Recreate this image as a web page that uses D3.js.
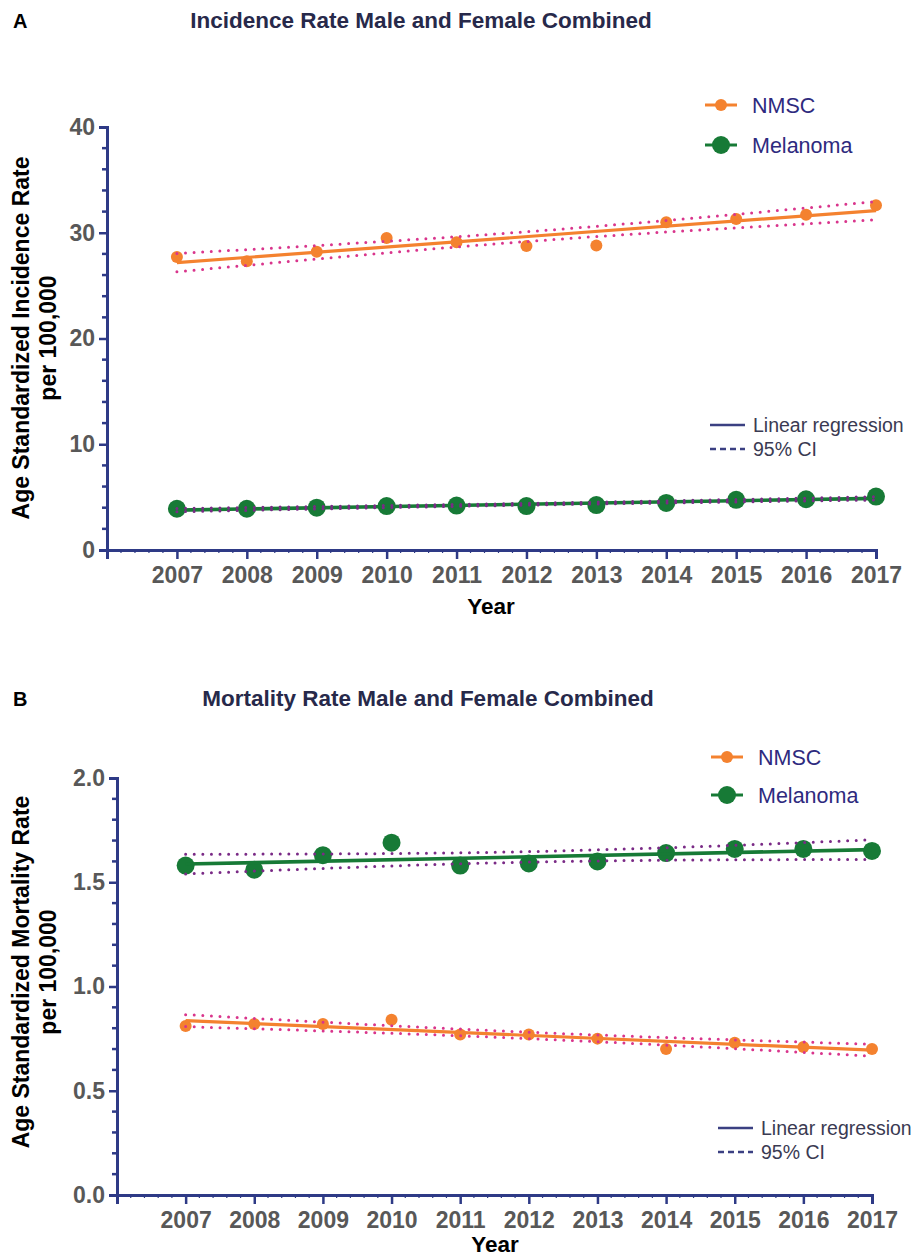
<!DOCTYPE html>
<html>
<head>
<meta charset="utf-8">
<script src="https://cdn.jsdelivr.net/npm/d3@7"></script>
<style>
  html, body { margin: 0; padding: 0; background: #fff; }
  svg { display: block; font-family: "Liberation Sans", Arial, sans-serif; }
</style>
</head>
<body>
<svg id="chart" width="915" height="1259"></svg>
<script>
// Age standardized rates per 100,000, 2007-2017
const years = [2007, 2008, 2009, 2010, 2011, 2012, 2013, 2014, 2015, 2016, 2017];
const yearTickLabels = ["2007", "2008", "2009", "2010", "2011", "2012", "2013", "2014", "2015", "2016", "2017"];

const incidenceNMSC     = [27.7, 27.3, 28.2, 29.5, 29.1, 28.75, 28.8, 31.0, 31.3, 31.7, 32.6];
const incidenceMelanoma = [3.9, 3.9, 4.0, 4.15, 4.2, 4.15, 4.25, 4.45, 4.75, 4.8, 5.05];

const mortalityNMSC     = [0.81, 0.82, 0.82, 0.84, 0.77, 0.77, 0.75, 0.70, 0.73, 0.71, 0.70];
const mortalityMelanoma = [1.58, 1.56, 1.63, 1.69, 1.58, 1.59, 1.60, 1.64, 1.66, 1.66, 1.65];

const incidenceTicks = [0, 10, 20, 30, 40];
const mortalityTicks = [0.0, 0.5, 1.0, 1.5, 2.0];

const seriesNames = ["NMSC", "Melanoma"];

const COL = {
  nmsc: "#F4822F",
  melanoma: "#177A36",
  nmscCI: "#D9358C",
  melanomaCI: "#7A2A86",
  axis: "#2E3A86",
  tick: "#585858",
  legendText: "#2E2A7E",
  title: "#27294A"
};

const svg = d3.select("#chart");

// Ordinary least squares fit with a 95% confidence band for the mean
function fitLine(xs, ys) {
  const n = xs.length;
  const mx = d3.mean(xs), my = d3.mean(ys);
  const sxx = d3.sum(xs, x => (x - mx) ** 2);
  const sxy = d3.sum(xs.map((x, i) => (x - mx) * (ys[i] - my)));
  const b = sxy / sxx, a = my - b * mx;
  const sse = d3.sum(xs.map((x, i) => (ys[i] - (a + b * x)) ** 2));
  const s = Math.sqrt(sse / (n - 2));
  const t = 2.262; // t(0.975, df = 9)
  const predict = x => a + b * x;
  const half = x => t * s * Math.sqrt(1 / n + (x - mx) ** 2 / sxx);
  return { predict, half };
}

function drawPanel(cfg) {
  const g = svg.append("g");
  const x = d3.scaleLinear().domain([2006, 2017]).range([cfg.left, cfg.right]);
  const y = d3.scaleLinear().domain([0, cfg.yMax]).range([cfg.bottom, cfg.top]);

  // panel letter and title
  g.append("text").attr("x", 13).attr("y", cfg.titleY)
    .attr("font-size", 20).attr("font-weight", "bold").attr("fill", "#000").text(cfg.letter);
  g.append("text").attr("x", cfg.titleX).attr("y", cfg.titleY).attr("text-anchor", "middle")
    .attr("font-size", 22.5).attr("font-weight", "bold").attr("fill", COL.title).text(cfg.title);

  // y axis
  const yAxis = d3.axisLeft(y).tickValues(cfg.yTicks).tickSize(8).tickPadding(4)
    .tickFormat(cfg.yFormat);
  const ya = g.append("g").attr("transform", `translate(${cfg.left},0)`).call(yAxis);
  ya.select(".domain").attr("stroke", COL.axis).attr("stroke-width", 3);
  ya.selectAll(".tick line").attr("stroke", COL.axis).attr("stroke-width", 2.5);
  ya.selectAll(".tick text").attr("font-size", 23).attr("font-weight", "bold")
    .attr("fill", COL.tick).attr("font-family", "Liberation Sans, Arial, sans-serif");
  const yMinor = d3.range(0, cfg.yMax + 1e-9, cfg.yMinorStep).filter(v => !cfg.yTicks.some(t => Math.abs(t - v) < 1e-9));
  g.append("g").selectAll("line").data(yMinor).join("line")
    .attr("x1", cfg.left - 5).attr("x2", cfg.left)
    .attr("y1", d => y(d)).attr("y2", d => y(d))
    .attr("stroke", COL.axis).attr("stroke-width", 2.5);

  // x axis
  const xAxis = d3.axisBottom(x).tickValues(years).tickSize(9).tickPadding(8)
    .tickFormat((d, i) => yearTickLabels[i]);
  const xa = g.append("g").attr("transform", `translate(0,${cfg.bottom})`).call(xAxis);
  xa.select(".domain").attr("stroke", COL.axis).attr("stroke-width", 3);
  xa.selectAll(".tick line").attr("stroke", COL.axis).attr("stroke-width", 2.5);
  xa.selectAll(".tick text").attr("font-size", 23).attr("font-weight", "bold")
    .attr("fill", COL.tick).attr("font-family", "Liberation Sans, Arial, sans-serif");
  const xMinor = d3.range(2006, 2017.0001, 0.2).filter(v => Math.abs(v - Math.round(v)) > 1e-6);
  g.append("g").selectAll("line").data(xMinor).join("line")
    .attr("x1", d => x(d)).attr("x2", d => x(d))
    .attr("y1", cfg.bottom).attr("y2", cfg.bottom + 3)
    .attr("stroke", COL.axis).attr("stroke-width", 1.2);

  // axis titles
  g.append("text").attr("x", cfg.yearX).attr("y", cfg.yearY).attr("text-anchor", "middle")
    .attr("font-size", 22.5).attr("font-weight", "bold").attr("fill", "#000").text("Year");
  const yl = g.append("g").attr("font-size", 23).attr("font-weight", "bold").attr("fill", "#000")
    .attr("text-anchor", "middle");
  yl.append("text").attr("transform", `translate(29,${cfg.yLabelY}) rotate(-90)`).text(cfg.yLabel);
  yl.append("text").attr("transform", `translate(56,${cfg.yLabelY}) rotate(-90)`).text("per 100,000");

  // series: points, fitted line, confidence band
  const series = [
    { vals: cfg.nmsc, color: COL.nmsc, ci: COL.nmscCI, r: 6, lw: 3.2 },
    { vals: cfg.melanoma, color: COL.melanoma, ci: COL.melanomaCI, r: 9, lw: 3.6 }
  ];
  const grid = d3.range(2007, 2017.0001, 0.05);
  const line = d3.line().x(d => x(d[0])).y(d => y(d[1]));
  series.forEach(s => {
    g.append("g").selectAll("circle").data(s.vals).join("circle")
      .attr("cx", (d, i) => x(years[i])).attr("cy", d => y(d)).attr("r", s.r)
      .attr("fill", s.color);
    const fit = fitLine(years, s.vals);
    g.append("path").datum([[2007, fit.predict(2007)], [2017, fit.predict(2017)]])
      .attr("d", line).attr("fill", "none").attr("stroke", s.color).attr("stroke-width", s.lw);
    [1, -1].forEach(sign => {
      g.append("path").datum(grid.map(v => [v, fit.predict(v) + sign * fit.half(v)]))
        .attr("d", line).attr("fill", "none").attr("stroke", s.ci).attr("stroke-width", 3)
        .attr("stroke-linecap", "round").attr("stroke-dasharray", "0 8.6");
    });
  });

  // series legend
  const lg = g.append("g");
  seriesNames.forEach((name, i) => {
    const s = series[i];
    const ly = cfg.legendY + i * cfg.legendGap;
    lg.append("line").attr("x1", cfg.legendX).attr("x2", cfg.legendX + 32)
      .attr("y1", ly).attr("y2", ly).attr("stroke", s.color).attr("stroke-width", 3);
    lg.append("circle").attr("cx", cfg.legendX + 16).attr("cy", ly).attr("r", s.r).attr("fill", s.color);
    lg.append("text").attr("x", cfg.legendX + 47).attr("y", ly + 7.5)
      .attr("font-size", 21.5).attr("fill", COL.legendText).text(name);
  });

  // regression legend
  const rg = g.append("g");
  [["Linear regression", null], ["95% CI", "6 4"]].forEach((d, i) => {
    const ly = cfg.regY + i * 24;
    rg.append("line").attr("x1", cfg.regX).attr("x2", cfg.regX + 35)
      .attr("y1", ly).attr("y2", ly).attr("stroke", "#3B4082").attr("stroke-width", 2.5)
      .attr("stroke-dasharray", d[1]);
    rg.append("text").attr("x", cfg.regX + 43).attr("y", ly + 7)
      .attr("font-size", 19.5).attr("fill", "#3A3A52").text(d[0]);
  });
}

drawPanel({
  letter: "A", title: "Incidence Rate Male and Female Combined", titleX: 421, titleY: 28,
  left: 107, right: 876, top: 127, bottom: 550, yMax: 40,
  yTicks: incidenceTicks, yMinorStep: 2, yFormat: d3.format("d"),
  yLabel: "Age Standardized Incidence Rate", yLabelY: 338, yearX: 491, yearY: 614,
  nmsc: incidenceNMSC, melanoma: incidenceMelanoma,
  legendX: 705, legendY: 105, legendGap: 40,
  regX: 710, regY: 425
});

drawPanel({
  letter: "B", title: "Mortality Rate Male and Female Combined", titleX: 428, titleY: 706,
  left: 117, right: 872, top: 778, bottom: 1195, yMax: 2,
  yTicks: mortalityTicks, yMinorStep: 0.1, yFormat: d3.format(".1f"),
  yLabel: "Age Standardized Mortality Rate", yLabelY: 972, yearX: 495, yearY: 1252,
  nmsc: mortalityNMSC, melanoma: mortalityMelanoma,
  legendX: 711, legendY: 757, legendGap: 38,
  regX: 718, regY: 1128
});
</script>
</body>
</html>
